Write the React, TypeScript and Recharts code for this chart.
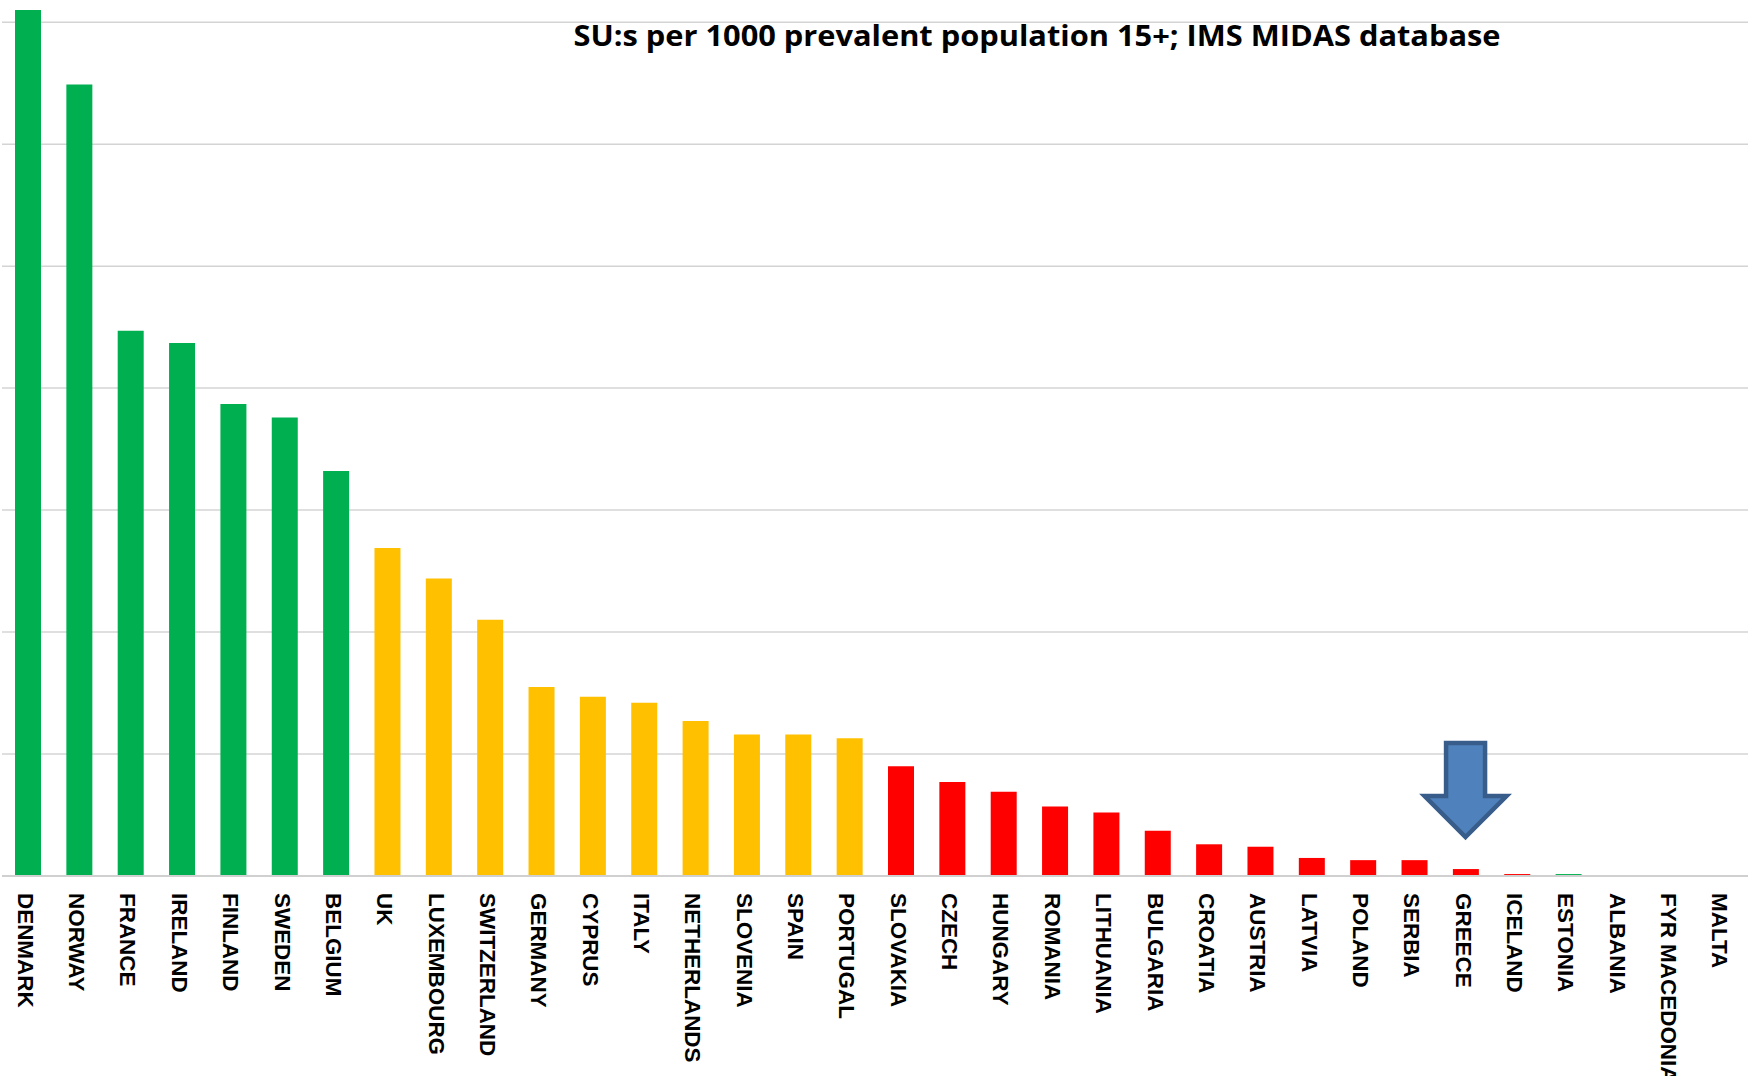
import { BarChart, Bar, XAxis, YAxis, CartesianGrid, Cell, ReferenceDot } from 'recharts'

// bar heights in units of one gridline step (no y labels in the source)
const countries = [
  'DENMARK', 'NORWAY', 'FRANCE', 'IRELAND', 'FINLAND', 'SWEDEN', 'BELGIUM',
  'UK', 'LUXEMBOURG', 'SWITZERLAND', 'GERMANY', 'CYPRUS', 'ITALY', 'NETHERLANDS',
  'SLOVENIA', 'SPAIN', 'PORTUGAL', 'SLOVAKIA', 'CZECH', 'HUNGARY', 'ROMANIA',
  'LITHUANIA', 'BULGARIA', 'CROATIA', 'AUSTRIA', 'LATVIA', 'POLAND', 'SERBIA',
  'GREECE', 'ICELAND', 'ESTONIA', 'ALBANIA', 'FYR MACEDONIA', 'MALTA',
]
const values = [
  7.1, 6.49, 4.47, 4.37, 3.87, 3.76, 3.32,
  2.69, 2.44, 2.1, 1.55, 1.47, 1.42, 1.27,
  1.16, 1.16, 1.13, 0.9, 0.77, 0.69, 0.57,
  0.52, 0.37, 0.26, 0.24, 0.148, 0.13, 0.13,
  0.057, 0.016, 0.016, 0, 0, 0,
]
const tiers = [
  'g', 'g', 'g', 'g', 'g', 'g', 'g',
  'y', 'y', 'y', 'y', 'y', 'y', 'y',
  'y', 'y', 'y', 'r', 'r', 'r', 'r',
  'r', 'r', 'r', 'r', 'r', 'r', 'r',
  'r', 'r', 'g', 'r', 'r', 'r',
]
const gridTicks = [0, 1, 2, 3, 4, 5, 6, 7]
const yMax = 7.1
const highlighted = 'GREECE'

const tierColor: Record<string, string> = { g: '#00B050', y: '#FFC000', r: '#FF0000' }

const data = countries.map((c, i) => ({ country: c, value: values[i], tier: tiers[i] }))

function RotatedTick({ x, y, payload }: any) {
  return (
    <g transform={`translate(${x - 2}, ${y + 17}) rotate(90) scale(1.02, 1)`}>
      <text x={0} y={0} dy="0.36em" textAnchor="start" fill="#000"
        style={{ fontFamily: "'Liberation Sans', Arial, sans-serif", fontSize: 22, fontWeight: 'bold' }}>
        {payload.value}
      </text>
    </g>
  )
}

function DownArrow({ cx, cy }: any) {
  const pts = [
    [0, 0], [41, -41], [19.5, -41], [19.5, -94],
    [-19.5, -94], [-19.5, -41], [-41, -41],
  ].map(([dx, dy]) => `${cx + dx},${cy + dy}`).join(' ')
  return <polygon points={pts} fill="#4F81BD" stroke="#385D8A" strokeWidth={4.5} strokeLinejoin="miter" />
}

// grid only at the whole-step ticks, not at the top edge of the plot
function gridRows({ offset }: any) {
  return gridTicks.map((t) => offset.top + offset.height * (1 - t / yMax))
}

export default function App() {
  return (
    <div style={{ position: 'absolute', left: 0, top: 0, width: 1752, height: 1076, background: '#fff', overflow: 'hidden' }}>
      <BarChart width={1752} height={1076} data={data} margin={{ top: 10, right: 4, left: 2, bottom: 0 }} barSize={26}>
        <CartesianGrid vertical={false} stroke="#d4d4d4" strokeWidth={1.5} horizontalCoordinatesGenerator={gridRows} />
        <XAxis dataKey="country" interval={0} height={200} tickLine={false} tickSize={0} tickMargin={0}
          axisLine={{ stroke: '#d0d0d0', strokeWidth: 2 }} tick={<RotatedTick />} />
        <YAxis hide domain={[0, yMax]} ticks={gridTicks} allowDataOverflow />
        <Bar dataKey="value" isAnimationActive={false}>
          {data.map((d, i) => <Cell key={i} fill={tierColor[d.tier]} />)}
        </Bar>
        <ReferenceDot x={highlighted} y={0.32} shape={<DownArrow />} ifOverflow="visible" />
      </BarChart>
      <svg width={1752} height={80} style={{ position: 'absolute', left: 0, top: 0 }}>
        <text x={1037} y={46} textAnchor="middle" textLength={927} lengthAdjust="spacingAndGlyphs"
          style={{ fontFamily: "'Liberation Sans Narrow', 'Open Sans', sans-serif", fontWeight: 'bold', fontSize: 28 }}>
          SU:s per 1000 prevalent population  15+; IMS MIDAS database
        </text>
      </svg>
    </div>
  )
}
